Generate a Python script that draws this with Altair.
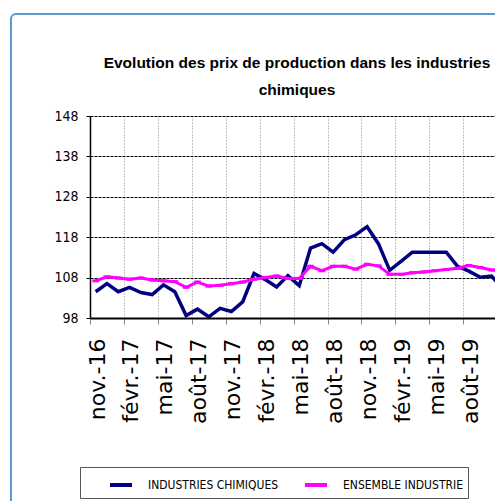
import json
import altair as alt
import pandas as pd

# ---- data ----
tick_labels = ["nov.-16", "févr.-17", "mai-17", "août-17", "nov.-17", "févr.-18",
               "mai-18", "août-18", "nov.-18", "févr.-19", "mai-19", "août-19", "nov.-19"]
chimiques = [104.5, 106.5, 104.5, 105.6, 104.3, 103.8, 106.2, 104.5, 98.6, 100.2, 98.3, 100.4,
             99.6, 102.0, 109.0, 107.5, 105.7, 108.5, 106.0, 115.3, 116.4, 114.3, 117.4, 118.6,
             120.6, 116.4, 109.8, 112.0, 114.3, 114.3, 114.3, 114.3, 110.8, 109.6, 108.1, 108.4,
             105.3]
ensemble = [107.2, 108.2, 107.9, 107.6, 107.9, 107.4, 107.2, 107.0, 105.6, 106.9, 105.9, 106.1,
            106.5, 106.9, 107.6, 108.0, 108.4, 107.8, 107.8, 110.8, 109.7, 110.8, 110.8, 110.1,
            111.3, 110.9, 108.8, 108.8, 109.2, 109.4, 109.7, 110.0, 110.3, 111.0, 110.5, 109.9,
            109.6]
series_names = ["INDUSTRIES CHIMIQUES", "ENSEMBLE INDUSTRIE"]
series_colors = ["#000080", "#FF00FF"]
y_ticks = [98, 108, 118, 128, 138, 148]
title_lines = ["Evolution des prix de production dans les industries", "chimiques"]

rows = []
for i, v in enumerate(chimiques):
    rows.append({"mois": i + 0.5, "valeur": v, "serie": series_names[0]})
for i, v in enumerate(ensemble):
    rows.append({"mois": i + 0.5, "valeur": v, "serie": series_names[1]})
df = pd.DataFrame(rows)

NARROW = "Liberation Sans Narrow, Arial Narrow, DejaVu Sans Condensed, sans-serif"

label_expr = json.dumps(tick_labels, ensure_ascii=False) + "[round(datum.value / 3)]"

x_enc = alt.X(
    "mois:Q",
    scale=alt.Scale(domain=[0, 35.81], nice=False, zero=False),
    axis=alt.Axis(
        title=None, values=list(range(0, 37, 3)), labelExpr=label_expr,
        grid=True, gridColor="#8a8a8a", gridDash=[1, 2], gridWidth=1,
        domainColor="#000000", domainWidth=2,
        tickColor="#8a8a8a", tickSize=6,
        labelAngle=270, labelAlign="right", labelBaseline="middle",
        labelOffset=7, labelPadding=14, labelFont="DejaVu Sans",
        labelFontSize=22, labelColor="#000000", labelOverlap=False,
    ),
)
y_enc = alt.Y(
    "valeur:Q",
    scale=alt.Scale(domain=[98, 148], nice=False, zero=False),
    axis=alt.Axis(
        title=None, values=y_ticks, grid=True, gridColor="#000000",
        gridDash=[3, 1], gridWidth=1, domainColor="#000000", domainWidth=1.5,
        tickColor="#000000", tickSize=4, labelPadding=8, labelFont=NARROW,
        labelFontSize=14, labelColor="#000000",
    ),
)
color_enc = alt.Color(
    "serie:N",
    scale=alt.Scale(domain=series_names, range=series_colors),
    legend=alt.Legend(
        title=None, orient="none", legendX=-10, legendY=351, direction="horizontal",
        symbolType="stroke", symbolSize=484, symbolStrokeWidth=4,
        labelFont=NARROW, labelFontSize=12, labelColor="#000000",
        columnPadding=1, padding=5, strokeColor="#555555", symbolOffset=23,
        labelOffset=14,
    ),
)

base = alt.Chart(df)

frame = alt.Chart(pd.DataFrame({"f": [0]})).mark_rect(
    fill="transparent", stroke="#5B9BD5", strokeWidth=2, cornerRadius=5
).encode(x=alt.value(-79), y=alt.value(-102), x2=alt.value(700), y2=alt.value(700))

title = alt.Chart(pd.DataFrame({"f": [0]})).mark_text(
    font="Liberation Sans", fontSize=15.5, fontWeight="bold", lineHeight=27,
    align="center", baseline="alphabetic", color="#000000"
).encode(x=alt.value(207), y=alt.value(-48), text=alt.value(title_lines))

blue = base.transform_filter(alt.datum.serie == series_names[0]).mark_line(
    strokeWidth=3.5, clip=True
).encode(x=x_enc, y=y_enc, color=color_enc)

pink = base.transform_filter(alt.datum.serie == series_names[1]).mark_line(
    strokeWidth=3, clip=True
).encode(x=x_enc, y=y_enc, color=color_enc)

pink_marks = base.transform_filter(alt.datum.serie == series_names[1]).mark_point(
    shape="M-1,-0.45L1,-0.45L1,0.45L-1,0.45Z", filled=True, size=45, opacity=1, clip=True
).encode(x=x_enc, y=y_enc, color=alt.value("#FF00FF"))

chart = alt.layer(frame, title, blue, pink, pink_marks).properties(
    width=405, height=202,
    padding={"left": 82, "top": 108, "right": 0, "bottom": 183},
    autosize=alt.AutoSizeParams(type="none"),
).configure_view(stroke="transparent")

chart.save("out.html", embed_options={"renderer": "svg", "actions": False})
